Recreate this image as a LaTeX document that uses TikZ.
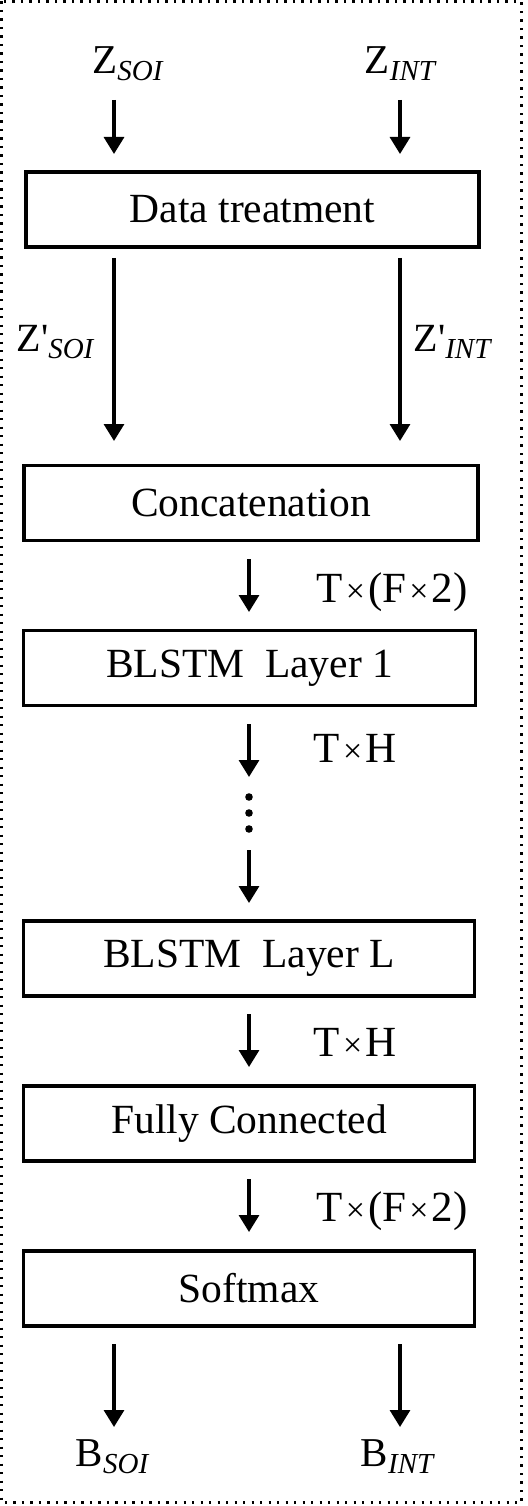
\documentclass[tikz,border=0pt]{standalone}
\usepackage{fontspec}
\setmainfont{Liberation Serif}
\usetikzlibrary{arrows.meta}
\newcommand{\subl}[2]{#1\raisebox{-7pt}{\fontsize{29}{30}\selectfont\itshape #2}}
\newcommand{\tms}{\hspace{3pt}{\fontsize{34}{40}\selectfont ×}\hspace{3pt}}
\begin{document}
\begin{tikzpicture}[x=1pt,y=-1pt,
  box/.style={draw,line width=3.3pt,minimum height=75pt,inner sep=0pt,font=\fontsize{41.5}{48}\selectfont},
  lbl/.style={anchor=base,inner sep=0pt,font=\fontsize{41}{48}\selectfont},
  dim/.style={anchor=base,inner sep=0pt,font=\fontsize{43}{50}\selectfont},
  arr/.style={line width=3.2pt,-{Triangle[length=17pt,width=20pt]}},
  frame/.style={line width=2.3pt,dash pattern=on 2.3pt off 6.2pt}]
\useasboundingbox (0,0) rectangle (527,1506);
\draw[frame] (1.5,1.5) rectangle (521.5,1502.5);

\node[box,minimum width=453pt] (dt) at (252.5,209.5) {Data treatment};
\node[box,minimum width=454pt] (cc) at (251,503) {Concatenation};
\node[box,minimum width=452pt] (b1) at (249.5,668) {BLSTM\hspace{0.5em}Layer 1};
\node[box,minimum width=451pt] (bL) at (249,958.5) {BLSTM\hspace{0.5em}Layer L};
\node[box,minimum width=451pt] (fc) at (249,1123.5) {Fully Connected};
\node[box,minimum width=451pt] (sm) at (249,1288.5) {Softmax};

\node[lbl] (zs) at (127.5,74) {\subl{Z}{SOI}};
\node[lbl] (zi) at (400,74) {\subl{Z}{INT}};
\node[lbl,font=\fontsize{40}{46}\selectfont] (zps) at (55,351) {\subl{Z\textquotesingle}{SOI}};
\node[lbl,font=\fontsize{40}{46}\selectfont] (zpi) at (452,351) {\subl{Z\textquotesingle}{INT}};
\node[lbl] (bs) at (112,1466) {\subl{B}{SOI}};
\node[lbl] (bi) at (397,1466) {\subl{B}{INT}};

\node[dim] (d1) at (392,602) {T\tms(F\tms2)};
\node[dim] (d2) at (355,762) {T\tms H};
\node[dim] (d3) at (355,1056) {T\tms H};
\node[dim] (d4) at (392,1221) {T\tms(F\tms2)};

\coordinate (a1s) at (114,100); \coordinate (a1e) at (114,154);
\coordinate (a2s) at (400,100); \coordinate (a2e) at (400,154);
\coordinate (a3s) at (114,258); \coordinate (a3e) at (114,441);
\coordinate (a4s) at (400,258); \coordinate (a4e) at (400,441);
\coordinate (a5s) at (249,559); \coordinate (a5e) at (249,612);
\coordinate (a6s) at (249,724); \coordinate (a6e) at (249,777);
\coordinate (a7s) at (249,850); \coordinate (a7e) at (249,903);
\coordinate (a8s) at (249,1014); \coordinate (a8e) at (249,1067);
\coordinate (a9s) at (249,1179); \coordinate (a9e) at (249,1232);
\coordinate (a10s) at (114,1344); \coordinate (a10e) at (114,1427);
\coordinate (a11s) at (400,1344); \coordinate (a11e) at (400,1427);
\foreach \i in {1,...,11} \draw[arr] (a\i s) -- (a\i e);

\foreach \yy in {797,813,829} \fill (249,\yy) circle (3.8pt);
\end{tikzpicture}
\end{document}
